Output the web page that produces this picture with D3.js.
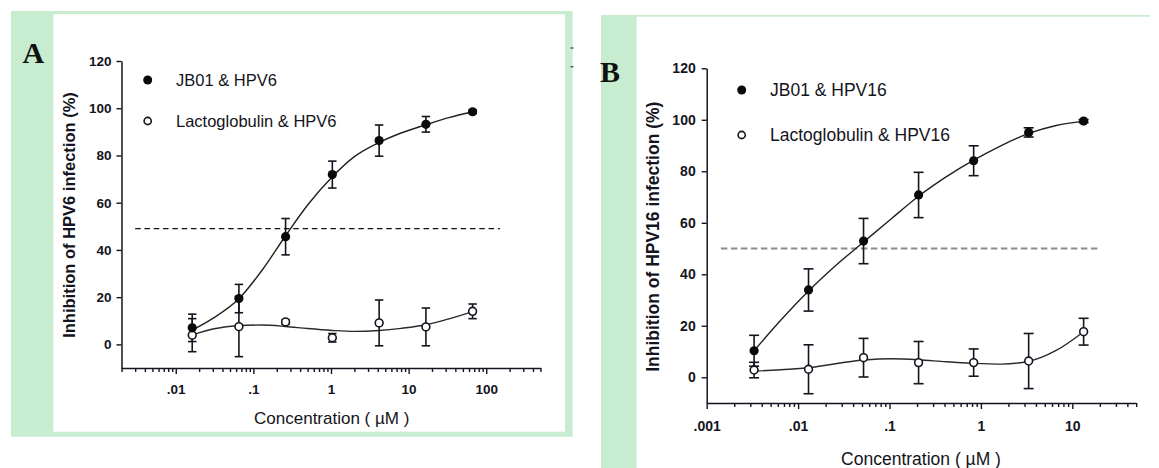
<!DOCTYPE html>
<html><head><meta charset="utf-8">
<script src="https://cdn.jsdelivr.net/npm/d3@7"></script>
<style>html,body{margin:0;padding:0;background:#fff;} svg{display:block;}</style>
</head><body>
<svg id="c" width="1159" height="468"></svg>
<script>
// ---------- DATA ----------
// Panel A (HPV6)
const concA = [0.0163, 0.0651, 0.26, 1.04, 4.17, 16.7, 66.7];
const jbA = [7.0, 19.4, 45.6, 71.9, 86.3, 93.2, 98.5];
const jbAErr = [5.8, 6.0, 7.7, 5.7, 6.6, 3.3, 0.8];
const lacA = [3.9, 7.5, 9.5, 2.8, 9.1, 7.4, 14.0];
const lacAErr = [7.0, 12.7, 1.0, 1.8, 9.7, 8.0, 3.1];
const fitXA = [0.0163, 0.03, 0.0651, 0.13, 0.26, 0.5, 1.04, 2, 4.17, 8, 16.7, 33, 66.7];
const fitJbA = [6.0, 11.0, 19.3, 31.5, 46, 59, 71, 79.5, 85.5, 89.5, 93, 96, 98.5];
const fitLacA = [4.0, 6.5, 8.0, 8.2, 7.6, 6.7, 5.9, 5.5, 5.9, 6.8, 8.3, 10.8, 13.9];
const halfA = {level: 49, from: 0.003, to: 150};
const xTicksA = [0.01, 0.1, 1, 10, 100];
const xTickLabelsA = [".01", ".1", "1", "10", "100"];
const legendA = ["JB01 & HPV6", "Lactoglobulin & HPV6"];
const yTitleA = "Inhibition of HPV6 infection (%)";

// Panel B (HPV16)
const concB = [0.0033, 0.013, 0.052, 0.208, 0.833, 3.33, 13.3];
const jbB = [10.3, 33.9, 52.9, 70.8, 84.1, 95.1, 99.5];
const jbBErr = [6.0, 8.2, 8.8, 8.8, 5.8, 1.8, 0.6];
const lacB = [2.8, 3.1, 7.6, 5.7, 5.7, 6.3, 17.7];
const lacBErr = [3.0, 9.5, 7.5, 8.2, 5.3, 10.7, 5.2];
const fitXB = [0.0033, 0.0066, 0.013, 0.026, 0.052, 0.104, 0.208, 0.416, 0.833, 1.67, 3.33, 6.66, 13.3];
const fitJbB = [10.3, 22.5, 33.5, 43.5, 52.5, 61.5, 70.3, 77.8, 84.3, 90, 94.7, 97.8, 99.5];
const fitXLacB = [0.0033, 0.013, 0.052, 0.104, 0.208, 0.416, 0.833, 1.67, 3.33, 6.66, 13.3];
const fitLacB = [2.4, 3.7, 6.7, 7.2, 6.8, 6.0, 5.4, 5.1, 6.2, 10.4, 17.7];
const halfB = {level: 50, from: 0.00143, to: 20.5};
const xTicksB = [0.001, 0.01, 0.1, 1, 10];
const xTickLabelsB = [".001", ".01", ".1", "1", "10"];
const legendB = ["JB01 & HPV16", "Lactoglobulin & HPV16"];
const yTitleB = "Inhibition of HPV16 infection (%)";

const yTicks = [0, 20, 40, 60, 80, 100, 120];
const xTitle = "Concentration ( \u00B5M )";

// ---------- DRAW ----------
const GREEN = "#c8ecd0";
const INK = "#141420";
const SANS = "'Liberation Sans', Arial, Helvetica, sans-serif";
const SERIF = "'Liberation Serif', 'Times New Roman', serif";
const svg = d3.select("#c");

// frames
svg.append("rect").attr("x", 11).attr("y", 11).attr("width", 561.7).attr("height", 425.7).attr("fill", GREEN);
svg.append("rect").attr("x", 53.3).attr("y", 14.3).attr("width", 511.7).attr("height", 417.4).attr("fill", "#fff");
svg.append("rect").attr("x", 601).attr("y", 15).attr("width", 549).attr("height", 453).attr("fill", GREEN);
svg.append("rect").attr("x", 636.7).attr("y", 16.7).attr("width", 523).attr("height", 452).attr("fill", "#fff");
// small marks at right edge of panel A
svg.append("rect").attr("x", 570.5).attr("y", 47.3).attr("width", 3).attr("height", 1.4).attr("fill", "#555");
svg.append("rect").attr("x", 570.5).attr("y", 66).attr("width", 3).attr("height", 1.4).attr("fill", "#555");

svg.append("text").attr("x", 33.3).attr("y", 63.3).attr("text-anchor", "middle")
  .attr("font-family", SERIF).attr("font-weight", "bold").attr("font-size", 30).attr("fill", "#111").text("A");
svg.append("text").attr("x", 600).attr("y", 81.7).attr("text-anchor", "start")
  .attr("font-family", SERIF).attr("font-weight", "bold").attr("font-size", 30).attr("fill", "#111").text("B");

function minorTicks(domain) {
  const out = [];
  const lo = Math.floor(Math.log10(domain[0])), hi = Math.ceil(Math.log10(domain[1]));
  for (let e = lo; e <= hi; e++) {
    for (let m = 2; m <= 9; m++) {
      const v = m * Math.pow(10, e);
      if (v >= domain[0] * 0.999 && v <= domain[1] * 1.001) out.push(v);
    }
  }
  return out;
}

function drawPanel(p) {
  const x = d3.scaleLog().domain(p.xDomain).range(p.xRange);
  const y = d3.scaleLinear().domain([-10, 120]).range(p.yRange);
  const g = svg.append("g");

  // y axis
  const ya = g.append("g").attr("transform", `translate(${p.xRange[0]},0)`)
    .call(d3.axisLeft(y).tickValues(yTicks).tickSize(5).tickSizeOuter(0).tickFormat(d => d));
  ya.select(".domain").attr("stroke", INK).attr("stroke-width", 1.5);
  ya.selectAll(".tick line").attr("stroke", INK).attr("stroke-width", 1.4);
  ya.selectAll(".tick text").attr("x", -p.yLabelGap).attr("fill", INK)
    .attr("font-family", SANS).attr("font-weight", "bold").attr("font-size", p.tickFont);

  // x axis
  const majors = p.xTicks;
  const all = majors.concat(minorTicks(p.xDomain).filter(v => !majors.some(m => Math.abs(m - v) / m < 1e-6)));
  const labelOf = v => {
    const i = majors.findIndex(m => Math.abs(m - v) / m < 1e-6);
    return i >= 0 ? p.xTickLabels[i] : "";
  };
  const xa = g.append("g").attr("transform", `translate(0,${p.yRange[0]})`)
    .call(d3.axisBottom(x).tickValues(all).tickSizeOuter(0).tickFormat(labelOf));
  xa.select(".domain").attr("stroke", INK).attr("stroke-width", 1.5);
  xa.selectAll(".tick line").attr("stroke", INK).attr("stroke-width", 1.4)
    .attr("y2", d => labelOf(d) ? 6 : 4);
  xa.selectAll(".tick text").attr("y", p.xLabelOffset).attr("dy", 0).attr("fill", INK)
    .attr("font-family", SANS).attr("font-weight", "bold").attr("font-size", p.tickFont);

  // titles
  g.append("text").attr("transform", `translate(${p.yTitlePos[0]},${p.yTitlePos[1]}) rotate(-90)`)
    .attr("text-anchor", "middle").attr("dy", "0.35em").attr("fill", INK)
    .attr("font-family", SANS).attr("font-weight", "bold").attr("font-size", p.yTitleFont).text(p.yTitle);
  g.append("text").attr("x", p.xTitlePos[0]).attr("y", p.xTitlePos[1]).attr("text-anchor", "middle")
    .attr("dy", "0.35em").attr("fill", INK)
    .attr("font-family", SANS).attr("font-size", p.xTitleFont).text(xTitle);

  // 50% line
  g.append("line").attr("x1", x(p.half.from)).attr("x2", x(p.half.to))
    .attr("y1", y(p.half.level)).attr("y2", y(p.half.level))
    .attr("stroke", p.halfColor).attr("stroke-width", p.halfWidth).attr("stroke-dasharray", p.halfDash);

  // fitted curves
  const line = d3.line().x(d => x(d[0])).y(d => y(d[1])).curve(d3.curveMonotoneX);
  g.append("path").attr("d", line(p.fitXJb.map((v, i) => [v, p.fitJb[i]])))
    .attr("fill", "none").attr("stroke", "#222").attr("stroke-width", 1.4);
  g.append("path").attr("d", line(p.fitXLac.map((v, i) => [v, p.fitLac[i]])))
    .attr("fill", "none").attr("stroke", "#2a2a2a").attr("stroke-width", 1.4);

  // error bars
  const cap = p.capHalf;
  function errBars(vals, errs) {
    p.conc.forEach((c, i) => {
      const cx = x(c), lo = y(vals[i] - errs[i]), hi = y(vals[i] + errs[i]);
      g.append("line").attr("x1", cx).attr("x2", cx).attr("y1", lo).attr("y2", hi)
        .attr("stroke", INK).attr("stroke-width", 1.6);
      [lo, hi].forEach(yy => g.append("line").attr("x1", cx - cap).attr("x2", cx + cap)
        .attr("y1", yy).attr("y2", yy).attr("stroke", INK).attr("stroke-width", 1.6));
    });
  }
  errBars(p.jb, p.jbErr);
  errBars(p.lac, p.lacErr);

  // markers
  g.selectAll(".lac").data(p.conc).enter().append("circle")
    .attr("cx", d => x(d)).attr("cy", (d, i) => y(p.lac[i])).attr("r", 3.9)
    .attr("fill", "#fff").attr("stroke", INK).attr("stroke-width", 1.6);
  g.selectAll(".jb").data(p.conc).enter().append("circle")
    .attr("cx", d => x(d)).attr("cy", (d, i) => y(p.jb[i])).attr("r", 4.6)
    .attr("fill", "#0a0a0a");

  // legend
  const L = p.legend;
  g.append("circle").attr("cx", L.x).attr("cy", L.y1).attr("r", 4.5).attr("fill", "#0a0a0a");
  g.append("circle").attr("cx", L.x).attr("cy", L.y2).attr("r", 3.6)
    .attr("fill", "#fff").attr("stroke", INK).attr("stroke-width", 1.6);
  [[L.y1, p.legendText[0]], [L.y2, p.legendText[1]]].forEach(([yy, t]) => {
    g.append("text").attr("x", L.tx).attr("y", yy).attr("dy", "0.35em").attr("fill", INK)
      .attr("font-family", SANS).attr("font-size", p.legendFont).text(t);
  });
}

drawPanel({
  xDomain: [0.002, 500], xRange: [121.5, 540.5], yRange: [368, 61],
  xTicks: xTicksA, xTickLabels: xTickLabelsA, tickFont: 13.5, yLabelGap: 10, xLabelOffset: 26,
  yTitle: yTitleA, yTitlePos: [69.5, 215], yTitleFont: 16.5,
  xTitlePos: [331.7, 418.3], xTitleFont: 17,
  half: halfA, halfColor: "#111", halfWidth: 1.4, halfDash: "5.5,3.8",
  conc: concA, jb: jbA, jbErr: jbAErr, lac: lacA, lacErr: lacAErr,
  fitXJb: fitXA, fitJb: fitJbA, fitXLac: fitXA, fitLac: fitLacA,
  capHalf: 4.2,
  legend: {x: 147.7, y1: 80, y2: 121, tx: 176}, legendText: legendA, legendFont: 16.5
});

drawPanel({
  xDomain: [0.001, 50], xRange: [706.7, 1136.2], yRange: [403, 68.3],
  xTicks: xTicksB, xTickLabels: xTickLabelsB, tickFont: 14, yLabelGap: 11, xLabelOffset: 28,
  yTitle: yTitleB, yTitlePos: [652.5, 236.7], yTitleFont: 17.5,
  xTitlePos: [921, 459.3], xTitleFont: 17.5,
  half: halfB, halfColor: "#8c8c8c", halfWidth: 2, halfDash: "6.5,3.5",
  conc: concB, jb: jbB, jbErr: jbBErr, lac: lacB, lacErr: lacBErr,
  fitXJb: fitXB, fitJb: fitJbB, fitXLac: fitXLacB, fitLac: fitLacB,
  capHalf: 5,
  legend: {x: 741.7, y1: 90, y2: 135, tx: 770}, legendText: legendB, legendFont: 17.5
});
</script>
</body></html>
